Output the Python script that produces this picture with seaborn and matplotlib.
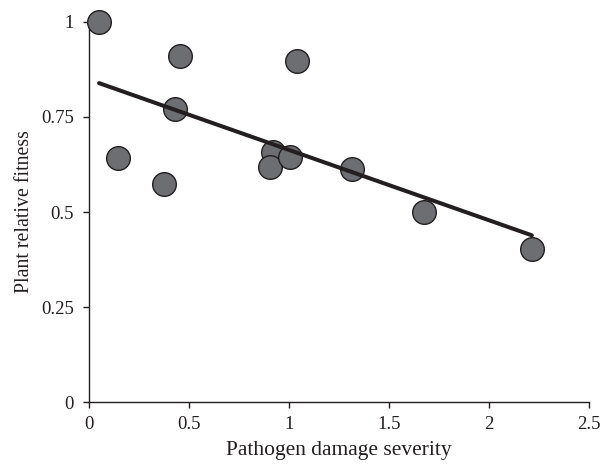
import numpy as np
import pandas as pd
import matplotlib
matplotlib.use("Agg")
import matplotlib.pyplot as plt
import seaborn as sns

# values
damage = [0.052, 0.454, 1.043, 0.429, 0.146, 0.376, 0.923, 0.907, 1.006, 1.318, 1.676, 2.214]
fitness = [1.000, 0.911, 0.896, 0.770, 0.641, 0.573, 0.659, 0.619, 0.646, 0.614, 0.499, 0.403]
x_ticks = [0, 0.5, 1, 1.5, 2, 2.5]
x_tick_labels = ["0", "0.5", "1", "1.5", "2", "2.5"]
y_ticks = [0, 0.25, 0.5, 0.75, 1]
y_tick_labels = ["0", "0.25", "0.5", "0.75", "1"]

df = pd.DataFrame({"damage": damage, "fitness": fitness})

sns.set_style("ticks")
plt.rcParams["font.family"] = ["Liberation Serif", "DejaVu Serif"]

fig = plt.figure(figsize=(6.03, 4.65), dpi=100)
ax = fig.add_axes([0.147, 0.135, 0.83, 0.818])

sns.regplot(data=df, x="damage", y="fitness", ax=ax, ci=None, truncate=True,
            scatter_kws={"s": 290, "color": "#6d6e71", "edgecolor": "#231f20",
                         "linewidths": 1.0, "alpha": 1, "clip_on": False, "zorder": 3},
            line_kws={"color": "#231f20", "linewidth": 2.9, "zorder": 4})

ax.set_xlim(0, 2.5)
ax.set_ylim(0, 1)
ax.set_xticks(x_ticks)
ax.set_xticklabels(x_tick_labels)
ax.set_yticks(y_ticks)
ax.set_yticklabels(y_tick_labels)
ax.tick_params(direction="out", length=4.5, width=1, colors="#231f20", labelsize=13.5)
ax.tick_params(axis="y", pad=6)
ax.tick_params(axis="x", pad=5.5)
for side in ["left", "bottom"]:
    ax.spines[side].set_color("#231f20")
    ax.spines[side].set_linewidth(1)
sns.despine(ax=ax)

ax.set_xlabel("Pathogen damage severity", fontsize=15.5, color="#231f20", labelpad=6)
ax.set_ylabel("Plant relative fitness", fontsize=14.3, color="#231f20", labelpad=5)

fig.savefig("out.png", dpi=100)
